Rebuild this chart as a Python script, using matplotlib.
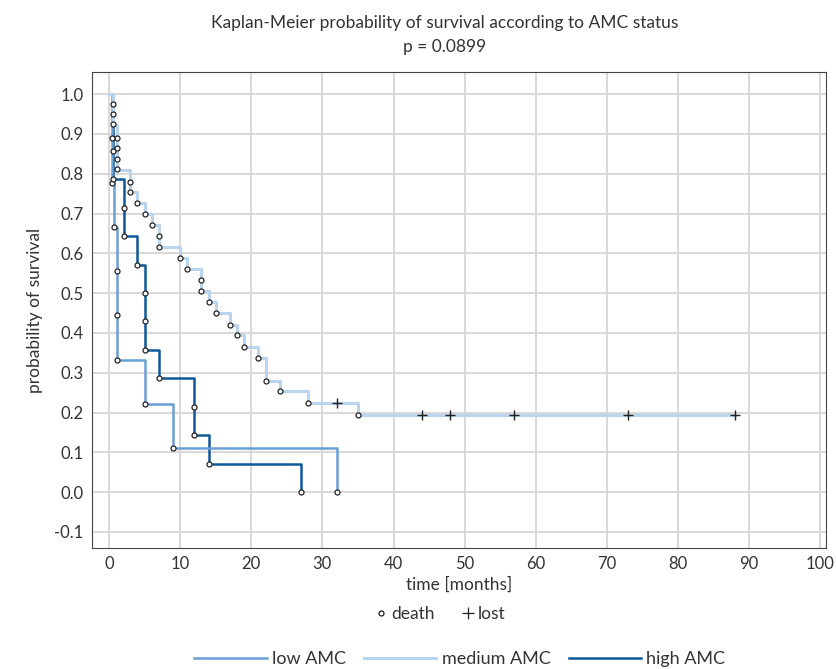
import numpy as np
import matplotlib
matplotlib.use('Agg')
import matplotlib.pyplot as plt
from matplotlib.lines import Line2D

plt.rcParams['font.family'] = ['Lato', 'DejaVu Sans']

# Kaplan-Meier steps (time in months, survival after step)
low_t = [0, 0.45, 0.7, 1.1, 5, 9, 32]
low_s = [1.0, 0.778, 0.667, 0.333, 0.222, 0.111, 0.0]
low_death_t = [0.45, 0.45, 0.7, 1.1, 1.1, 1.1, 5, 9, 32]
low_death_s = [0.889, 0.778, 0.667, 0.556, 0.444, 0.333, 0.222, 0.111, 0.0]

med_t = [0, 0.5, 1.1, 3, 4, 5, 6, 7, 10, 11, 13, 14, 15, 17, 18, 19, 21, 22, 24, 28, 35, 88]
med_s = [1.0, 0.922, 0.81, 0.755, 0.727, 0.70, 0.672, 0.615, 0.588, 0.56, 0.505, 0.477,
         0.45, 0.42, 0.394, 0.366, 0.336, 0.28, 0.253, 0.225, 0.195, 0.195]
med_death_t = [0.5, 0.5, 0.5, 1.1, 1.1, 1.1, 1.1, 3, 3, 4, 5, 6, 7, 7, 10, 11, 13, 13,
               14, 15, 17, 18, 19, 21, 22, 24, 28, 35]
med_death_s = [0.975, 0.95, 0.925, 0.89, 0.865, 0.837, 0.812, 0.78, 0.755, 0.727, 0.70,
               0.672, 0.643, 0.615, 0.588, 0.56, 0.533, 0.505, 0.477, 0.45, 0.42, 0.394,
               0.366, 0.336, 0.28, 0.253, 0.225, 0.195]
med_lost_t = [32, 44, 48, 57, 73, 88]
med_lost_s = [0.225, 0.195, 0.195, 0.195, 0.195, 0.195]

high_t = [0, 0.6, 2.1, 4, 5, 7, 12, 14, 27]
high_s = [1.0, 0.786, 0.643, 0.571, 0.357, 0.286, 0.143, 0.071, 0.0]
high_death_t = [0.6, 0.6, 2.1, 2.1, 4, 5, 5, 5, 7, 12, 12, 14, 27]
high_death_s = [0.857, 0.786, 0.714, 0.643, 0.571, 0.5, 0.429, 0.357, 0.286, 0.214,
                0.143, 0.071, 0.0]

c_low = '#6a9fd6'
c_med = '#b9d4ee'
c_high = '#0f5799'

fig = plt.figure(figsize=(8.36, 6.69), dpi=100)
ax = fig.add_axes([0.110, 0.181, 0.878, 0.711])

ax.step(high_t, high_s, where='post', color=c_high, lw=1.8, zorder=3)
ax.step(low_t, low_s, where='post', color=c_low, lw=1.8, zorder=4)
ax.step(med_t, med_s, where='post', color=c_med, lw=2.2, zorder=5)

dk = dict(marker='o', ms=3.6, mfc='white', mec='#222222', mew=0.9, ls='none', zorder=6)
ax.plot(med_death_t, med_death_s, **dk)
ax.plot(low_death_t, low_death_s, **dk)
ax.plot(high_death_t, high_death_s, **dk)
ax.plot(med_lost_t, med_lost_s, marker='+', ms=7, mec='#222222', mew=1.0, ls='none', zorder=6)

ax.set_xlim(-2.4, 100.8)
ax.set_ylim(-0.14, 1.055)
ax.set_xticks(np.arange(0, 101, 10))
ax.set_yticks(np.arange(-0.1, 1.01, 0.1))
ax.set_yticklabels(['%.1f' % v for v in np.arange(-0.1, 1.01, 0.1)])
ax.grid(True, color='#d6d6d6', lw=1.3)
ax.set_axisbelow(True)
ax.tick_params(length=0, labelsize=12, labelcolor='#333333', pad=6)
for s in ax.spines.values():
    s.set_color('#444444')
    s.set_linewidth(0.8)

ax.set_xlabel('time [months]', fontsize=12.5, color='#333333', labelpad=3)
ax.set_ylabel('probability of survival', fontsize=12.5, color='#333333', labelpad=8)

fig.text(0.532, 0.965, 'Kaplan-Meier probability of survival according to AMC status',
         ha='center', va='center', fontsize=12.5, color='#333333')
fig.text(0.532, 0.930, 'p = 0.0899', ha='center', va='center', fontsize=12.5, color='#333333')

h1 = [Line2D([], [], marker='o', ms=3.6, mfc='white', mec='#222222', mew=0.9, ls='none'),
      Line2D([], [], marker='+', ms=9, mec='#222222', mew=0.9, ls='none')]
fig.legend(h1, ['death', 'lost'], loc='center', bbox_to_anchor=(0.527, 1 - 614 / 669),
           ncol=2, frameon=False, fontsize=12.5, handlelength=0.6, handletextpad=0.3,
           columnspacing=1.6, labelcolor='#333333')

h2 = [Line2D([], [], color=c_low, lw=1.8), Line2D([], [], color=c_med, lw=2.2),
      Line2D([], [], color=c_high, lw=1.8)]
fig.legend(h2, ['low AMC', 'medium AMC', 'high AMC'], loc='center',
           bbox_to_anchor=(0.55, 1 - 659 / 669), ncol=3, frameon=False, fontsize=13,
           handlelength=4.0, handletextpad=0.3, columnspacing=1.0, labelcolor='#333333')

fig.savefig('out.png', dpi=100)
